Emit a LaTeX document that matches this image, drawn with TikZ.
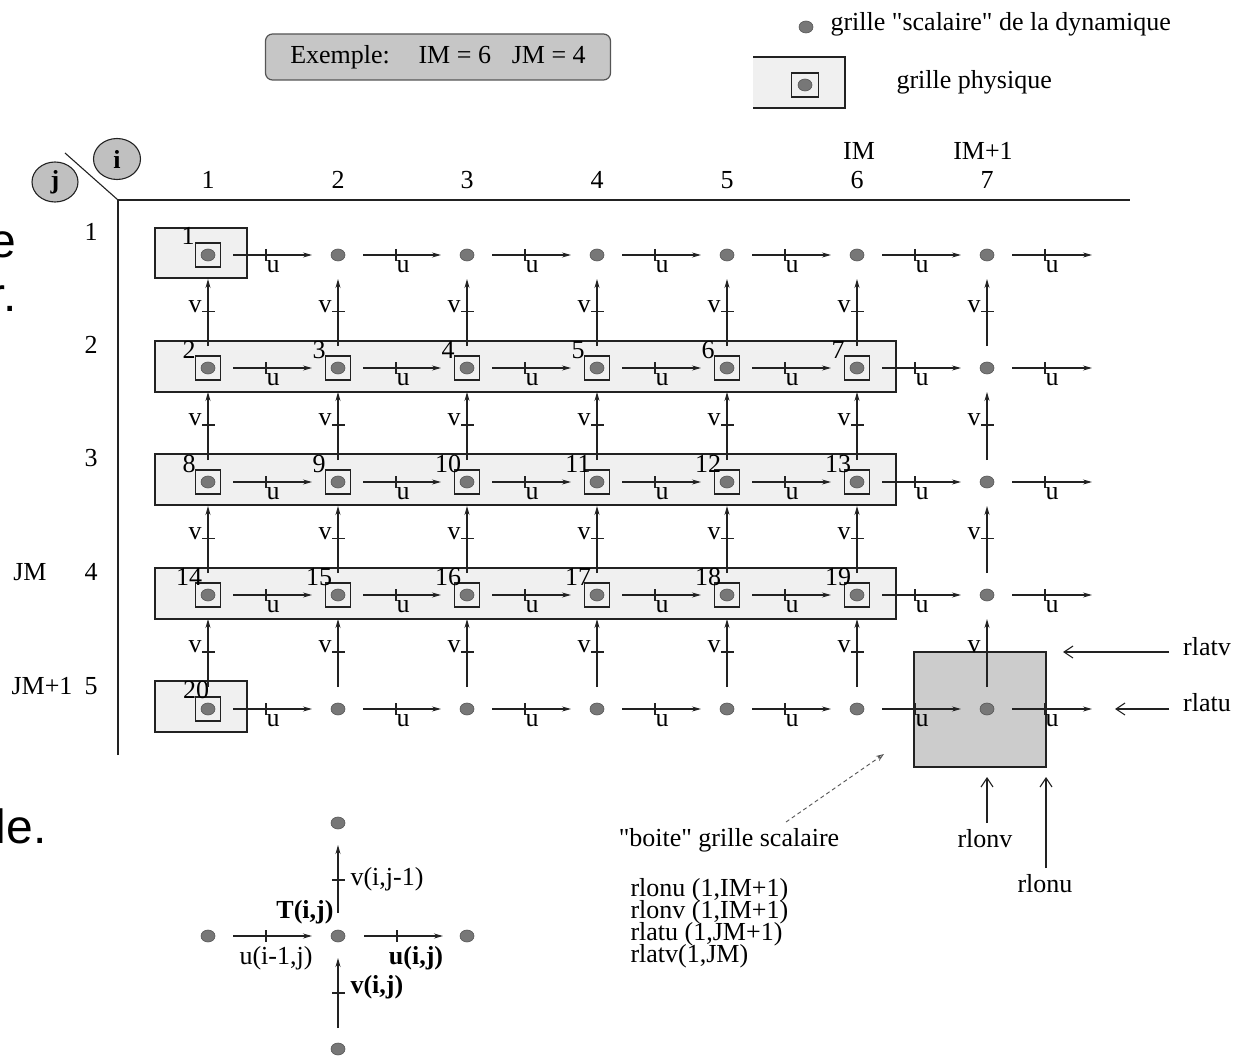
\documentclass[tikz,border=0pt]{standalone}
\usepackage{fontspec}
\setmainfont{Liberation Serif}[Ligatures=TeXOff]
\setsansfont{Liberation Sans}
\usetikzlibrary{arrows.meta,calc,shapes.geometric}
\definecolor{bandgray}{HTML}{F0F0F0}
\definecolor{boxgray}{HTML}{CCCCCC}
\definecolor{dotgray}{HTML}{777777}
\definecolor{dotdark}{HTML}{555555}
\definecolor{exgray}{HTML}{C6C6C6}
\definecolor{idxgray}{HTML}{C0C0C0}
\definecolor{ink}{HTML}{222222}
\begin{document}
\begin{tikzpicture}[x=1pt,y=-1pt, line width=1.1pt, draw=ink,
  every node/.style={font=\fontsize{26}{28}\selectfont, inner sep=0pt},
  dot/.style={ellipse, fill=dotgray, draw=dotdark, line width=0.6pt, minimum width=14pt, minimum height=12pt},
  phys/.style={draw, rectangle, minimum width=25pt, minimum height=24pt, line width=1.2pt},
  band/.style={draw, fill=bandgray, line width=1.1pt},
  flow/.style={-{Stealth[length=9pt,width=5pt]}, line width=1.1pt},
  hollow/.style={-{Straight Barb[length=9pt,width=12pt]}, line width=1.1pt},
  idx/.style={ellipse, draw, fill=idxgray, line width=1.1pt, minimum width=47pt, minimum height=41pt, font=\fontsize{26}{28}\selectfont\bfseries},
  exbox/.style={draw=dotdark, fill=exgray, rounded corners=7pt, line width=1.2pt, minimum width=345pt, minimum height=46pt},
  frag/.style={font=\fontsize{48}{56}\selectfont\sffamily, anchor=base east}
]
\useasboundingbox (0,0) rectangle (1233,1056);

% fragments of text at the left edge
\node[frag] (fe) at (17,258) {e};
\node[frag] (fr) at (17,312) {r.};
\node[frag] (fle) at (47,843) {le.};

% top example box and legend
\node[exbox] (ex) at (438,57) {Exemple:\hspace{1.1em}IM = 6\hspace{0.8em}JM = 4};
\node[dot] (ldot) at (806,27) {};
\node[anchor=west] (ltxt) at (830,24) {grille "scalaire" de la dynamique};
\fill[bandgray] (753,57) rectangle (845,108);
\draw (753,57) -- (845,57) -- (845,108) -- (753,108);
\node[dot] (ldot2) at (805,85) {};
\node[phys, minimum width=27pt] (lphys) at (805,85) {};
\node[anchor=west] (lphystxt) at (896,82) {grille physique};

% axes
\draw (65,153) -- (118,200);
\draw (118,755) -- (118,200) -- (1130,200);
\node[idx] (ci) at (117,159) {i};
\node[idx, minimum width=46pt, minimum height=40pt] (cj) at (55,182) {j};

% column / row headers
\foreach \c/\x in {1/208,2/338,3/467,4/597,5/727,6/857,7/987}
  \node (h\c) at (\x,180) {\c};
\node (hIM) at (859,151) {IM};
\node (hIMp) at (983,151) {IM+1};
\foreach \r/\y in {1/232,2/345,3/458,4/572,5/686}
  \node (r\r) at (91,\y) {\r};
\node (rJM) at (30,572) {JM};
\node (rJMp) at (42,686) {JM+1};

% physical-grid bands
\draw[band] (155,228) rectangle (247,278);
\foreach \y in {341,454,568}
  \draw[band] (155,\y) rectangle (896,{\y+51});
\draw[band] (155,681) rectangle (247,732);
% scalar-grid box
\draw[fill=boxgray, line width=1.1pt] (914,652) rectangle (1046,767);

% dots
\foreach \c/\x in {1/208,2/338,3/467,4/597,5/727,6/857,7/987} {
  \foreach \r/\y in {1/255,2/368,3/482,4/595,5/709} {
    \node[dot] (d-\c-\r) at (\x,\y) {};
  }
}
\foreach \r/\y in {1/255,2/368,3/482,4/595,5/709}
  \coordinate (d-8-\r) at (1118,\y);

% physical squares
\node[phys] (p-1-1) at (d-1-1) {};
\foreach \c in {1,...,6} {
  \foreach \r in {2,3,4} {
    \node[phys] (p-\c-\r) at (d-\c-\r) {};
  }
}
\node[phys] (p-1-5) at (d-1-5) {};

% numbers
\node (n1) at ($(d-1-1)+(-20,-19)$) {1};
\foreach \n/\c/\r in {2/1/2,3/2/2,4/3/2,5/4/2,6/5/2,7/6/2,8/1/3,9/2/3,10/3/3,11/4/3,12/5/3,13/6/3,14/1/4,15/2/4,16/3/4,17/4/4,18/5/4,19/6/4} {
  \node (n\n) at ($(d-\c-\r)+(-19,-18)$) {\n};
}
\node (n20) at ($(d-1-5)+(-12,-19)$) {20};

% u arrows
\foreach \r in {1,...,5} {
  \foreach \c [evaluate=\c as \nx using int(\c+1)] in {1,...,7} {
    \draw[flow] ($(d-\c-\r)+(25,0)$) -- ($(d-\nx-\r)+(-26,0)$);
    \draw ($(d-\c-\r)+(58,-6)$) -- ($(d-\c-\r)+(58,6)$);
    \node (u-\c-\r) at ($(d-\c-\r)+(65,12)$) {u};
  }
}

% v arrows
\foreach \c in {1,...,7} {
  \foreach \r [evaluate=\r as \nx using int(\r+1)] in {1,...,4} {
    \draw[flow] ($(d-\c-\nx)+(0,-22)$) -- ($(d-\c-\r)+(0,24)$);
    \coordinate (m-\c-\r) at ($(d-\c-\r)!0.5!(d-\c-\nx)$);
    \draw ($(m-\c-\r)+(-6,0)$) -- ($(m-\c-\r)+(7,0)$);
    \node (v-\c-\r) at ($(m-\c-\r)+(-13,-5)$) {v};
  }
}

% box annotations
\node (rlatv) at (1207,647) {rlatv};
\node (rlatu) at (1207,703) {rlatu};
\node (rlonv) at (985,839) {rlonv};
\node (rlonu) at (1045,884) {rlonu};
\coordinate (latvS) at (1169,652);
\coordinate (latvE) at (1063,652);
\coordinate (latuS) at (1169,709);
\coordinate (latuE) at (1115,709);
\coordinate (lonvS) at (987,823);
\coordinate (lonvE) at (987,777);
\coordinate (lonuS) at (1046,868);
\coordinate (lonuE) at (1046,777);
\draw[hollow] (latvS) -- (latvE);
\draw[hollow] (latuS) -- (latuE);
\draw[hollow] (lonvS) -- (lonvE);
\draw[hollow] (lonuS) -- (lonuE);

\node (boite) at (729,840) {"boite" grille scalaire};
\coordinate (dashS) at (786,822);
\coordinate (dashE) at (884,754);
\draw[dotdark, line width=0.9pt, dash pattern=on 4pt off 3pt, -{Stealth[open,length=8pt,width=6pt]}] (dashS) -- (dashE);
\node[anchor=west] (l1) at (630,890) {rlonu (1,IM+1)};
\node[anchor=west] (l2) at (630,912) {rlonv (1,IM+1)};
\node[anchor=west] (l3) at (630,934) {rlatu (1,JM+1)};
\node[anchor=west] (l4) at (630,956) {rlatv(1,JM)};

% stencil
\node[dot] (s-n) at (338,823) {};
\node[dot] (s-w) at (208,936) {};
\node[dot] (s-c) at (338,936) {};
\node[dot] (s-e) at (467,936) {};
\node[dot] (s-s) at (338,1049) {};
\draw[flow] ($(s-w)+(25,0)$) -- ($(s-c)+(-26,0)$);
\draw ($(s-w)+(58,-6)$) -- ($(s-w)+(58,6)$);
\draw[flow] ($(s-c)+(26,0)$) -- ($(s-e)+(-24,0)$);
\draw ($(s-c)+(59,-6)$) -- ($(s-c)+(59,6)$);
\draw[flow] ($(s-c)+(0,-23)$) -- ($(s-n)+(0,22)$);
\draw ($(s-c)+(-6,-56)$) -- ($(s-c)+(7,-56)$);
\draw[flow] ($(s-s)+(0,-21)$) -- ($(s-c)+(0,22)$);
\draw ($(s-c)+(-6,57)$) -- ($(s-c)+(7,57)$);
\node (ulab) at (276,958) {u(i-1,j)};
\node (uijlab) at (416,958) {\textbf{u(i,j)}};
\node[anchor=west] (vjlab) at (350,879) {v(i,j-1)};
\node[anchor=west] (vijlab) at (350,987) {\textbf{v(i,j)}};
\node (Tlab) at (305,912) {\textbf{T(i,j)}};
\end{tikzpicture}
\end{document}
